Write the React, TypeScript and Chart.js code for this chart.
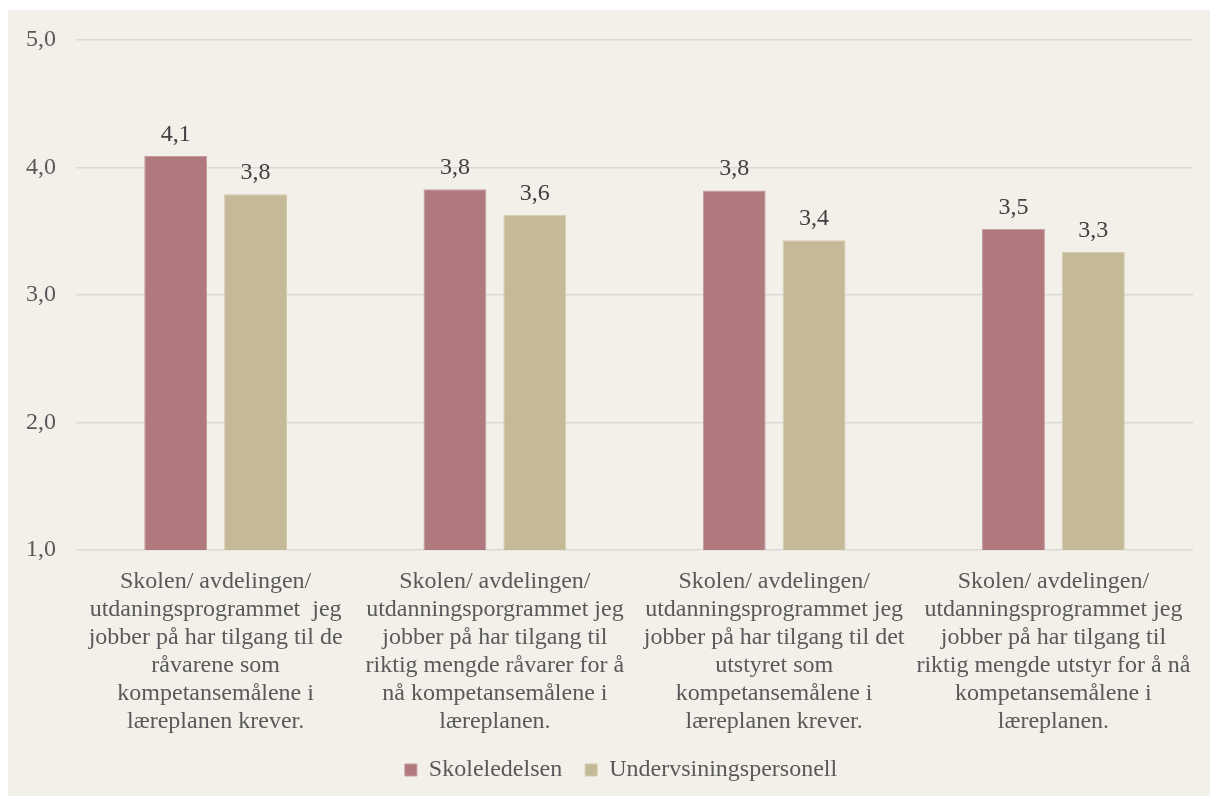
import React, { useEffect, useRef } from "react";
import { Chart, registerables } from "chart.js";

Chart.register(...registerables);

const categories: string[][] = [
  ["Skolen/ avdelingen/", "utdaningsprogrammet  jeg", "jobber på har tilgang til de", "råvarene som", "kompetansemålene i", "læreplanen krever."],
  ["Skolen/ avdelingen/", "utdanningsporgrammet jeg", "jobber på har tilgang til", "riktig mengde råvarer for å", "nå kompetansemålene i", "læreplanen."],
  ["Skolen/ avdelingen/", "utdanningsprogrammet jeg", "jobber på har tilgang til det", "utstyret som", "kompetansemålene i", "læreplanen krever."],
  ["Skolen/ avdelingen/", "utdanningsprogrammet jeg", "jobber på har tilgang til", "riktig mengde utstyr for å nå", "kompetansemålene i", "læreplanen."],
];

const seriesNames = ["Skoleledelsen", "Undervsiningspersonell"];
const skoleledelsen = [4.09, 3.83, 3.82, 3.52];
const undervisning = [3.79, 3.63, 3.43, 3.34];

const yMin = 1;
const yMax = 5;
const yStep = 1;

const FONT = "'Liberation Serif', 'Times New Roman', Times, serif";
const fmt = (v: number) => v.toFixed(1).replace(".", ",");

const dataLabelPlugin = {
  id: "dataLabels",
  afterDatasetsDraw(chart: any) {
    const ctx = chart.ctx;
    ctx.save();
    ctx.font = `24px ${FONT}`;
    ctx.fillStyle = "#404040";
    ctx.textAlign = "center";
    ctx.textBaseline = "alphabetic";
    chart.data.datasets.forEach((ds: any, i: number) => {
      const meta = chart.getDatasetMeta(i);
      meta.data.forEach((bar: any, j: number) => {
        ctx.fillText(fmt(ds.data[j]), bar.x, bar.y - 15);
      });
    });
    ctx.restore();
  },
};

export default function App() {
  const ref = useRef<HTMLCanvasElement | null>(null);
  useEffect(() => {
    if (!ref.current) return;
    const chart = new Chart(ref.current, {
      type: "bar",
      data: {
        labels: categories,
        datasets: [
          {
            label: seriesNames[0],
            data: skoleledelsen,
            backgroundColor: "#b0797d",
            borderColor: "#c49a9d",
            borderWidth: 1,
          },
          {
            label: seriesNames[1],
            data: undervisning,
            backgroundColor: "#c4ba98",
            borderColor: "#d3cbae",
            borderWidth: 1,
          },
        ],
      },
      plugins: [dataLabelPlugin],
      options: {
        animation: false,
        responsive: true,
        maintainAspectRatio: false,
        layout: { padding: { left: 37, right: 13, top: 30, bottom: 4 } },
        datasets: {
          bar: { categoryPercentage: 0.572, barPercentage: 0.7875 },
        },
        plugins: {
          tooltip: { enabled: false },
          legend: {
            position: "bottom",
            labels: {
              boxWidth: 12,
              boxHeight: 12,
              padding: 23,
              color: "#595959",
              font: { family: FONT, size: 24 },
            },
          },
        },
        scales: {
          x: {
            grid: { display: false, drawTicks: false },
            border: { display: false },
            ticks: {
              color: "#595959",
              font: { family: FONT, size: 24, lineHeight: "28px" },
              padding: 18,
              maxRotation: 0,
              autoSkip: false,
            },
            afterFit(scale: any) {
              scale.height = 185;
            },
          },
          y: {
            min: yMin,
            max: yMax,
            grid: { color: "#d9d9d9", lineWidth: 1.5, drawTicks: false },
            border: { display: false },
            ticks: {
              stepSize: yStep,
              color: "#595959",
              mirror: true,
              padding: -50,
              font: { family: FONT, size: 24 },
              callback: (v: any) => fmt(Number(v)),
            },
            afterFit(scale: any) {
              scale.width = 31;
            },
          },
        },
      },
    } as any);
    return () => chart.destroy();
  }, []);

  return (
    <div
      style={{
        position: "fixed",
        left: 8,
        top: 10,
        width: 1202,
        height: 786,
        background: "#f3f0ea",
      }}
    >
      <canvas ref={ref} />
    </div>
  );
}
